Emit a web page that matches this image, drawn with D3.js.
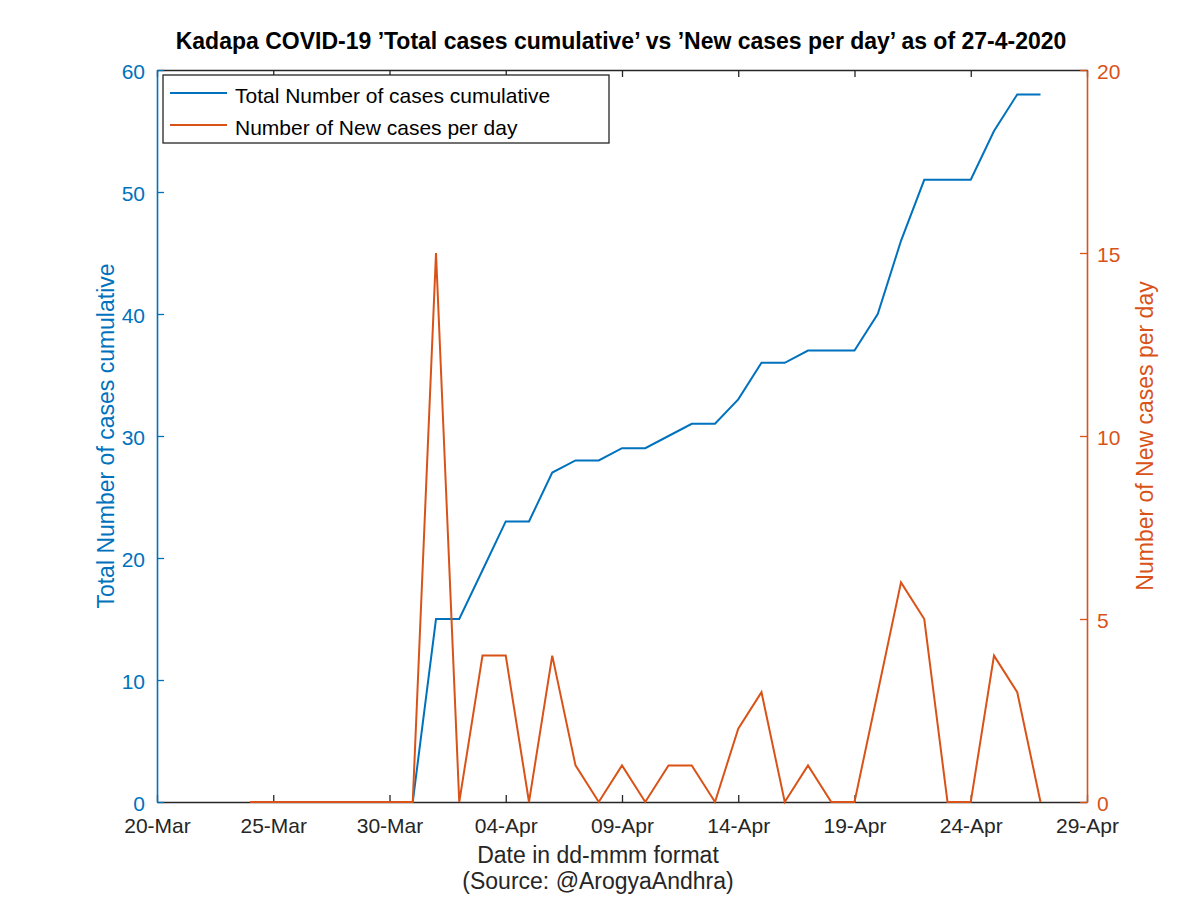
<!DOCTYPE html>
<html><head><meta charset="utf-8">
<script src="https://cdn.jsdelivr.net/npm/d3@7"></script>
<style>body{margin:0;background:#fff;} text{font-family:"Liberation Sans",Arial,sans-serif;}</style>
</head><body><svg id="c" width="1200" height="898"></svg>
<script>
const totalDates = ["2020-03-31","2020-04-01","2020-04-02","2020-04-03","2020-04-04","2020-04-05","2020-04-06","2020-04-07","2020-04-08","2020-04-09","2020-04-10","2020-04-11","2020-04-12","2020-04-13","2020-04-14","2020-04-15","2020-04-16","2020-04-17","2020-04-18","2020-04-19","2020-04-20","2020-04-21","2020-04-22","2020-04-23","2020-04-24","2020-04-25","2020-04-26","2020-04-27"];
const totalCases = [0,15,15,19,23,23,27,28,28,29,29,30,31,31,33,36,36,37,37,37,40,46,51,51,51,55,58,58];
const newDates = ["2020-03-24","2020-03-25","2020-03-26","2020-03-27","2020-03-28","2020-03-29","2020-03-30","2020-03-31","2020-04-01","2020-04-02","2020-04-03","2020-04-04","2020-04-05","2020-04-06","2020-04-07","2020-04-08","2020-04-09","2020-04-10","2020-04-11","2020-04-12","2020-04-13","2020-04-14","2020-04-15","2020-04-16","2020-04-17","2020-04-18","2020-04-19","2020-04-20","2020-04-21","2020-04-22","2020-04-23","2020-04-24","2020-04-25","2020-04-26","2020-04-27"];
const newCases = [0,0,0,0,0,0,0,0,15,0,4,4,0,4,1,0,1,0,1,1,0,2,3,0,1,0,0,3,6,5,0,0,4,3,0];
const xTickDates = ["2020-03-20","2020-03-25","2020-03-30","2020-04-04","2020-04-09","2020-04-14","2020-04-19","2020-04-24","2020-04-29"];
const leftTicks = [0,10,20,30,40,50,60];
const rightTicks = [0,5,10,15,20];
const titleText = "Kadapa COVID-19 \u2019Total cases cumulative\u2019 vs \u2019New cases per day\u2019 as of 27-4-2020";

const BLUE = "#0072BD", ORANGE = "#D95319", DARK = "#262626";
const FONT = "Liberation Sans, Arial, sans-serif";
const parse = d3.utcParse("%Y-%m-%d");
const svg = d3.select("#c");
const L = 157, R = 1087, T = 70, B = 802;
const x = d3.scaleUtc().domain([parse("2020-03-20"), parse("2020-04-29")]).range([L, R]);
const yL = d3.scaleLinear().domain([0,60]).range([B, T]);
const yR = d3.scaleLinear().domain([0,20]).range([B, T]);
const fmt = d3.utcFormat("%d-%b");

// axes
const fs = "21px";
const xb = svg.append("g").attr("transform",`translate(0,${B})`).call(d3.axisBottom(x).tickValues(xTickDates.map(parse)).tickFormat(fmt).tickSizeInner(-7).tickSizeOuter(0).tickPadding(16));
const xt = svg.append("g").attr("transform",`translate(0,${T})`).call(d3.axisTop(x).tickValues(xTickDates.map(parse)).tickFormat("").tickSizeInner(-7).tickSizeOuter(0));
[xb,xt].forEach(a=>{a.select(".domain").attr("stroke",DARK).attr("stroke-width",1.3);a.selectAll(".tick line").attr("stroke",DARK).attr("stroke-width",1.3);});
xb.selectAll("text").attr("font-size",fs).attr("fill",DARK).attr("font-family",FONT);

const yl = svg.append("g").attr("transform",`translate(${L},0)`).call(d3.axisLeft(yL).tickValues(leftTicks).tickSizeInner(-7).tickSizeOuter(0).tickPadding(12));
yl.select(".domain").attr("stroke",BLUE).attr("stroke-width",1.6);
yl.selectAll(".tick line").attr("stroke",BLUE).attr("stroke-width",1.3);
yl.selectAll("text").attr("font-size",fs).attr("fill",BLUE).attr("font-family",FONT).attr("dy","0.4em");

const yr = svg.append("g").attr("transform",`translate(${R},0)`).call(d3.axisRight(yR).tickValues(rightTicks).tickSizeInner(-7).tickSizeOuter(0).tickPadding(10));
yr.select(".domain").attr("stroke",ORANGE).attr("stroke-width",1.6);
yr.selectAll(".tick line").attr("stroke",ORANGE).attr("stroke-width",1.3);
yr.selectAll("text").attr("font-size",fs).attr("fill",ORANGE).attr("font-family",FONT).attr("dy","0.4em");

// data lines
svg.append("clipPath").attr("id","cl").append("rect").attr("x",L).attr("y",T-2).attr("width",R-L).attr("height",B-T+6);
const g = svg.append("g").attr("clip-path","url(#cl)");
const lineL = d3.line().x(d=>x(parse(d[0]))).y(d=>yL(d[1]));
const lineR = d3.line().x(d=>x(parse(d[0]))).y(d=>yR(d[1]));
g.append("path").datum(totalDates.map((d,i)=>[d,totalCases[i]])).attr("d",lineL).attr("fill","none").attr("stroke",BLUE).attr("stroke-width",2);
g.append("path").datum(newDates.map((d,i)=>[d,newCases[i]])).attr("d",lineR).attr("fill","none").attr("stroke",ORANGE).attr("stroke-width",2);

// labels
svg.append("text").attr("x",621).attr("y",49).attr("text-anchor","middle").attr("font-size","23px").attr("font-weight","bold").attr("fill","#000").text(titleText);
svg.append("text").attr("x",598).attr("y",863).attr("text-anchor","middle").attr("font-size","23px").attr("fill",DARK).text("Date in dd-mmm format");
svg.append("text").attr("x",598).attr("y",889).attr("text-anchor","middle").attr("font-size","23px").attr("fill",DARK).text("(Source: @ArogyaAndhra)");
svg.append("text").attr("transform","translate(114,436) rotate(-90)").attr("text-anchor","middle").attr("font-size","23px").attr("fill",BLUE).text("Total Number of cases cumulative");
svg.append("text").attr("transform","translate(1153,436) rotate(-90)").attr("text-anchor","middle").attr("font-size","23px").attr("fill",ORANGE).text("Number of New cases per day");

// legend
const lg = svg.append("g");
lg.append("rect").attr("x",163).attr("y",75).attr("width",446).attr("height",68).attr("fill","#fff").attr("stroke",DARK).attr("stroke-width",1.3);
const items = [["Total Number of cases cumulative",BLUE],["Number of New cases per day",ORANGE]];
items.forEach((it,i)=>{
  const yy = 93 + i*32;
  lg.append("line").attr("x1",170).attr("x2",227).attr("y1",yy).attr("y2",yy).attr("stroke",it[1]).attr("stroke-width",2);
  lg.append("text").attr("x",235).attr("y",yy+10).attr("font-size","21px").attr("fill","#000").text(it[0]);
});
</script></body></html>
